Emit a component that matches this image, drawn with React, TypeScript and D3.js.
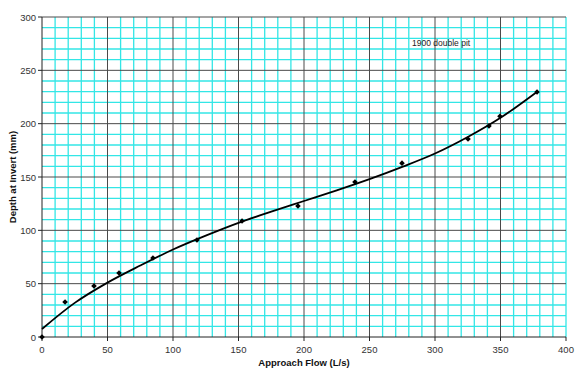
import React from "react";
import * as d3 from "d3";

const flowData = [0, 17.6, 39.7, 58.8, 84.7, 118.3, 152.7, 195.4, 238.9, 274.8, 325.2, 341.2, 349.6, 377.9];
const depthData = [0, 32.8, 47.8, 60, 74, 91, 108.7, 122.8, 145.3, 163, 185.6, 197.8, 207, 229.7];

const trendFlow = [0, 25, 50, 75, 100, 125, 150, 175, 200, 225, 250, 275, 300, 325, 350, 378];
const trendDepth = [7.5, 32, 51, 67, 82, 95, 107, 117.5, 127.5, 137.5, 148, 159.5, 172, 187.5, 205.5, 230];

const xTicks = [0, 50, 100, 150, 200, 250, 300, 350, 400];
const yTicks = [0, 50, 100, 150, 200, 250, 300];

const W = 576;
const H = 382;

export default function App() {
  const x = d3.scaleLinear().domain([0, 400]).range([42, 566]);
  const y = d3.scaleLinear().domain([0, 300]).range([337, 17]);
  const minorX = d3.range(0, 401, 10).filter((v) => v % 50 !== 0);
  const minorY = d3.range(0, 301, 10).filter((v) => v % 50 !== 0);
  const line = d3
    .line<number>()
    .x((_, i) => x(trendFlow[i]))
    .y((_, i) => y(trendDepth[i]))
    .curve(d3.curveCatmullRom);
  const font = "'Liberation Sans', Arial, sans-serif";
  const diamond = (cx: number, cy: number) =>
    `M${cx},${cy - 2.8}L${cx + 2.8},${cy}L${cx},${cy + 2.8}L${cx - 2.8},${cy}Z`;

  return (
    <svg
      width={W}
      height={H}
      style={{ position: "absolute", left: 0, top: 0, background: "#fff" }}
      fontFamily={font}
    >
      <rect x={0} y={0} width={W} height={H} fill="#fff" />
      {minorX.map((v) => (
        <line key={"mx" + v} x1={x(v)} x2={x(v)} y1={y(0)} y2={y(300)} stroke="#33e6e6" strokeWidth={1.3} />
      ))}
      {minorY.map((v) => (
        <line key={"my" + v} x1={x(0)} x2={x(400)} y1={y(v)} y2={y(v)} stroke="#33e6e6" strokeWidth={1.3} />
      ))}
      {xTicks.slice(1, -1).map((v) => (
        <line key={"Mx" + v} x1={x(v)} x2={x(v)} y1={y(0)} y2={y(300)} stroke="#4a4a4a" strokeWidth={1} />
      ))}
      <line x1={x(400)} x2={x(400)} y1={y(0)} y2={y(300)} stroke="#33e6e6" strokeWidth={1.3} />
      {yTicks.slice(1).map((v) => (
        <line key={"My" + v} x1={x(0)} x2={x(400)} y1={y(v)} y2={y(v)} stroke="#4a4a4a" strokeWidth={1} />
      ))}
      <line x1={x(0)} x2={x(0)} y1={y(0)} y2={y(300)} stroke="#222" strokeWidth={1} />
      <line x1={x(0)} x2={x(400)} y1={y(0)} y2={y(0)} stroke="#222" strokeWidth={1} />
      {yTicks.map((v) => (
        <g key={"yt" + v}>
          <line x1={x(0) - 4} x2={x(0)} y1={y(v)} y2={y(v)} stroke="#222" />
          <text x={x(0) - 6} y={y(v) + 3.5} fontSize={9.5} textAnchor="end" fill="#333">
            {v}
          </text>
        </g>
      ))}
      {xTicks.map((v) => (
        <g key={"xt" + v}>
          <line x1={x(v)} x2={x(v)} y1={y(0)} y2={y(0) + 4} stroke="#222" />
          <text x={x(v)} y={y(0) + 16} fontSize={9.5} textAnchor="middle" fill="#333">
            {v}
          </text>
        </g>
      ))}
      <path d={line(trendFlow) || ""} fill="none" stroke="#000" strokeWidth={1.8} />
      {flowData.map((v, i) => (
        <path key={"p" + i} d={diamond(x(v), y(depthData[i]))} fill="#000" />
      ))}
      <text x={412} y={46} fontSize={8.5} fill="#222">
        1900 double pit
      </text>
      <text x={304} y={366} fontSize={9.5} fontWeight="bold" textAnchor="middle" fill="#111">
        Approach Flow (L/s)
      </text>
      <text
        transform={`translate(16,${177}) rotate(-90)`}
        fontSize={9.5}
        fontWeight="bold"
        textAnchor="middle"
        fill="#111"
      >
        Depth at Invert (mm)
      </text>
    </svg>
  );
}
